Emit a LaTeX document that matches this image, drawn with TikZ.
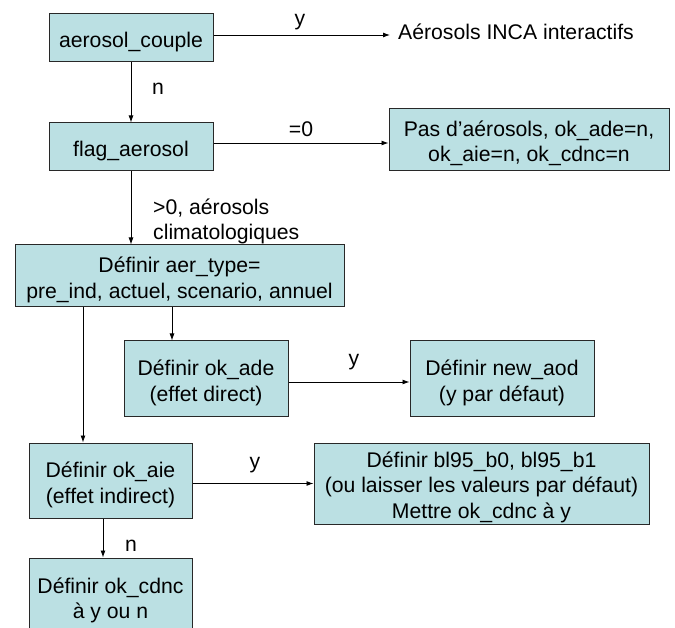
\documentclass[tikz,border=0pt]{standalone}
\usepackage{fontspec}
\setmainfont{Liberation Sans}
\usetikzlibrary{arrows.meta}
\definecolor{boxfill}{RGB}{187,224,227}
\definecolor{boxline}{RGB}{40,40,40}
\begin{document}
\begin{tikzpicture}[x=1pt,y=-1pt,
  every node/.style={font=\fontsize{21.2}{25.5}\selectfont, text=black},
  box/.style={draw=boxline, fill=boxfill, line width=1pt, inner sep=0pt},
  btext/.style={align=center, inner sep=0pt},
  lbl/.style={inner sep=0pt, anchor=base},
  arr/.style={draw=black, line width=0.9pt, -{Latex[length=7pt,width=5pt]}}]
\useasboundingbox (0,0) rectangle (675,628);
\fill[white] (0,0) rectangle (675,628);

% boxes
\node[box, minimum width=164, minimum height=48] (ac) at (131,38) {};
\node[box, minimum width=164, minimum height=48] (flag) at (131,147) {};
\node[box, minimum width=280, minimum height=62] (pas) at (529,140) {};
\node[box, minimum width=329, minimum height=62] (aer) at (179.5,276) {};
\node[box, minimum width=164, minimum height=75] (ade) at (206,378.5) {};
\node[box, minimum width=184, minimum height=75] (aod) at (502,378.5) {};
\node[box, minimum width=163, minimum height=75] (aie) at (110.5,480.5) {};
\node[box, minimum width=335, minimum height=81] (bl) at (481.5,483.5) {};
\node[box, minimum width=163, minimum height=77] (cdnc) at (110.5,596.5) {};

% box texts
\node[btext] (tac) at ([yshift=-4.5pt]ac.center) {aerosol\_couple};
\node[btext] (tflag) at ([yshift=-4.5pt]flag.center) {flag\_aerosol};
\node[btext] (tpas) at ([yshift=-3.5pt]pas.center) {Pas d’aérosols, ok\_ade=n,\\ok\_aie=n, ok\_cdnc=n};
\node[btext] (taer) at ([yshift=-4pt]aer.center) {Définir aer\_type=\\pre\_ind, actuel, scenario, annuel};
\node[btext] (tade) at ([yshift=-4.5pt]ade.center) {Définir ok\_ade\\(effet direct)};
\node[btext] (taod) at ([yshift=-4.5pt]aod.center) {Définir new\_aod\\(y par défaut)};
\node[btext] (taie) at ([yshift=-4.5pt]aie.center) {Définir ok\_aie\\(effet indirect)};
\node[btext] (tbl) at ([yshift=-3.5pt]bl.center) {Définir bl95\_b0, bl95\_b1\\(ou laisser les valeurs par défaut)\\Mettre ok\_cdnc à y};
\node[btext] (tcdnc) at ([yshift=-4pt]cdnc.center) {Définir ok\_cdnc\\à y ou n};

\node[anchor=base west, inner ysep=0pt, inner xsep=8pt] (inca) at (390,40) {Aérosols INCA interactifs};

% connectors
\draw[arr] ([yshift=3pt]ac.east) -- ([yshift=3pt]ac.east -| inca.west);
\draw[arr] (ac.south) -- (flag.north);
\draw[arr] ([yshift=4pt]flag.east) -- ([yshift=4pt]flag.east -| pas.west);
\draw[arr] (flag.south) -- (flag.south |- aer.north);
\draw[arr] ([xshift=-7.5pt]aer.south) -- ([xshift=-7.5pt]aer.south |- ade.north);
\draw[arr] ([yshift=-3.5pt]ade.east) -- ([yshift=-3.5pt]aod.west);
\draw[arr] ([xshift=-96.5pt]aer.south) -- ([xshift=-96.5pt]aer.south |- aie.north);
\draw[arr] (aie.east |- bl.west) -- (bl.west);
\draw[arr] ([xshift=-7.5pt]aie.south) -- ([xshift=-7.5pt]aie.south |- cdnc.north);

% labels
\node[lbl] (ly1) at (300,26) {y};
\node[lbl] (ln1) at (158,95) {n};
\node[lbl] (leq) at (301,137) {=0};
\node[inner sep=0pt, anchor=base west, align=left] (lgt) at (153,240) {>0, aérosols\\climatologiques};
\node[lbl] (ly2) at (354,366) {y};
\node[lbl] (ly3) at (255,468) {y};
\node[lbl] (ln2) at (131,551) {n};
\end{tikzpicture}
\end{document}
